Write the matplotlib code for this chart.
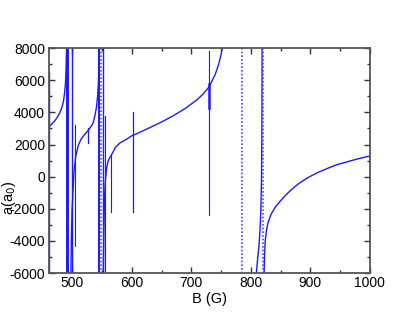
import numpy as np
import matplotlib
matplotlib.use('Agg')
import matplotlib.pyplot as plt
from matplotlib.ticker import MultipleLocator

plt.rcParams['font.family'] = ['Liberation Sans', 'DejaVu Sans']
plt.rcParams['axes.unicode_minus'] = False

# scattering length branches (B in G, a in a0)
seg1_B = [460, 462, 466, 470, 474, 478, 482, 485, 487, 488.5, 489.5, 490.2, 490.8]
seg1_a = [3050, 3150, 3300, 3450, 3650, 3900, 4250, 4650, 5200, 5800, 6700, 7800, 9500]

seg2_B = [497.3, 497.8, 498.5, 499.5, 501, 503, 506, 510, 515, 520, 526, 532,
          535, 538, 540.5, 542.5, 543.8, 544.6, 545.2]
seg2_a = [-9000, -5500, -3800, -2200, -1000, 400, 1300, 1950, 2350, 2600, 2850, 3150,
          3350, 3800, 4300, 5000, 5800, 7000, 9000]

seg3_B = [551.8, 552.3, 553, 554, 555.5, 557.5, 560, 564, 568, 572, 580, 590, 600,
          610, 630, 650, 670, 690, 710, 720, 730, 740, 746, 750, 753, 755]
seg3_a = [-9000, -5500, -3500, -1500, -300, 500, 950, 1250, 1500, 1800, 2100, 2300, 2550,
          2700, 3050, 3400, 3800, 4250, 4800, 5150, 5600, 6350, 7000, 7600, 8200, 9000]

seg4_B = [808, 809.3, 811.5, 813.7, 815.5, 817, 818, 818.6, 819]
seg4_a = [-9000, -6000, -5100, -4300, -3300, -2000, 0, 3000, 9000]

seg5_B = [821.6, 822.3, 823, 824, 826, 829, 834, 841, 850, 860, 870, 880, 890, 900,
          915, 930, 945, 960, 975, 990, 1000]
seg5_a = [-9000, -6000, -5000, -4100, -3400, -2850, -2350, -1900, -1500, -1100, -750, -450, -200, 20,
          300, 530, 750, 900, 1060, 1200, 1280]

# narrow resonances drawn as vertical strokes: position, lower end, upper end
spike_B = [460.8, 491.5, 493.5, 499.5, 504.5, 526.8, 544.7, 550.9, 554.3, 564.6, 601.3, 729.5]
spike_lo = [-9000, -9000, -9000, -9000, -4300, 2100, -9000, -9000, -9000, -2200, -2200, -2400]
spike_hi = [6500, 9000, 9000, 9000, 3200, 3000, 9000, 9000, 3800, 1300, 4000, 7800]
spike_lw = [1.0, 1.4, 1.4, 1.0, 0.8, 0.9, 1.4, 1.0, 0.8, 0.8, 0.9, 0.8]

thick_B = [729]
thick_lo = [4250]
thick_hi = [5750]

# resonance positions (dotted)
dot_B = [547.8, 785.8, 820.5]

blue = '#1a1aff'

fig = plt.figure(figsize=(4.16, 3.21), dpi=100)
ax = fig.add_axes([0.1166, 0.1495, 0.7724, 0.7005])

for B, a in [(seg1_B, seg1_a), (seg2_B, seg2_a), (seg3_B, seg3_a),
             (seg4_B, seg4_a), (seg5_B, seg5_a)]:
    ax.plot(B, a, color=blue, lw=1.0)

for B, lo, hi, lw in zip(spike_B, spike_lo, spike_hi, spike_lw):
    ax.plot([B, B], [lo, hi], color=blue, lw=lw)
for B, lo, hi in zip(thick_B, thick_lo, thick_hi):
    ax.plot([B, B], [lo, hi], color=blue, lw=1.8)

for B in dot_B:
    ax.plot([B, B], [-9000, 9000], color='#4a4aff', lw=1.2, linestyle=(0, (1, 1.2)))

ax.set_xlim(460, 1000)
ax.set_ylim(-6000, 8000)
ax.xaxis.set_major_locator(MultipleLocator(100))
ax.xaxis.set_minor_locator(MultipleLocator(50))
ax.yaxis.set_major_locator(MultipleLocator(2000))
ax.yaxis.set_minor_locator(MultipleLocator(1000))
ax.tick_params(which='both', direction='in', top=True, right=True,
               color='#333333', labelsize=10, pad=2.5)
ax.tick_params(which='major', length=4.5, width=1.0)
ax.tick_params(which='minor', length=2.5, width=1.0)
for s in ax.spines.values():
    s.set_color('#555555')
    s.set_linewidth(1.3)

ax.set_xlabel('B (G)', fontsize=10.5, labelpad=1)
ax.set_ylabel('a(a$_0$)', fontsize=10.5)
# the reference puts the label low, partly over the -2000 tick label
ax.yaxis.set_label_coords(-0.095, 0.333)

fig.savefig('out.png', dpi=100)
